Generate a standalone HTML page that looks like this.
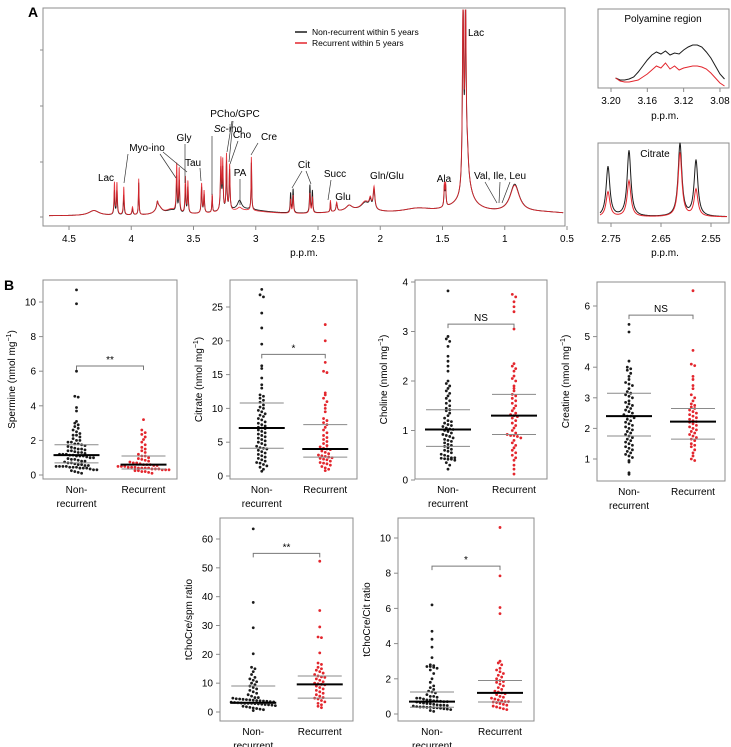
<!DOCTYPE html>
<html><head><meta charset="utf-8"><style>
html,body{margin:0;padding:0;background:#fff;}
svg{display:block;font-family:"Liberation Sans",Arial,sans-serif;}
</style></head><body>
<svg id="fig" width="731" height="747" viewBox="0 0 731 747" xmlns="http://www.w3.org/2000/svg">
<g id="panelA"></g>
<g id="panelB"></g>
</svg>
<script>
// ===== Panel A data =====
const peakPpm   = [4.30,3.78,3.68,3.10,2.25,2.12,2.20,1.70,1.30,1.33,0.92,0.70,
  4.135,4.115,4.06,3.99,3.94,3.79,3.635,3.615,3.565,3.545,3.435,3.415,3.35,3.28,3.265,3.235,3.21,3.13,3.035,
  2.72,2.70,2.565,2.545,2.40,2.35,2.05,2.08,1.485,1.475,1.335,1.315,1.30];
const peakBlack = [5,8,4,6,5,8,4,5,18,10,28,3,
  24,24,20,6,32,6,36,32,28,26,26,18,17,42,40,48,40,9,48,
  20,24,28,22,10,8,20,8,20,20,180,170,22];
const peakRed   = [5,8,5,5,5,9,4,5,18,10,27,3,
  32,32,28,8,36,6,48,44,36,32,30,22,19,52,48,56,46,3,55,
  14,18,20,16,12,9,22,9,22,22,190,180,22];
const peakWidth = [0.05,0.03,0.05,0.25,0.03,0.04,0.25,0.15,0.04,0.15,0.045,0.3,
  0.004,0.004,0.004,0.005,0.003,0.006,0.004,0.004,0.004,0.004,0.004,0.004,0.003,0.005,0.004,0.004,0.004,0.02,0.003,
  0.004,0.004,0.004,0.004,0.003,0.006,0.008,0.01,0.004,0.004,0.006,0.006,0.01];
const ppmTicks = [4.5,4,3.5,3,2.5,2,1.5,1,0.5];
const annText = ["Lac","Myo-ino","Gly","Tau","PCho/GPC","Cho","Cre","PA","Cit","Succ","Glu","Gln/Glu","Ala","Val, Ile, Leu"];
const annX    = [106,147,184,193,235,242,269,240,304,335,343,387,444,500];
const annY    = [181,151,141,166,117,138,140,176,168,177,200,179,182,179];

const polyPpm   = [3.195,3.19,3.185,3.18,3.175,3.17,3.165,3.16,3.155,3.15,3.145,3.14,3.135,3.13,3.125,3.12,3.115,3.11,3.105,3.10,3.095,3.09,3.085,3.08,3.075];
const polyBlack = [10,8,8,9,11,16,22,28,33,36,34,37,33,35,34,38,41,43,43,41,36,30,22,14,9];
const polyRed   = [10,7,6,6,7,8,11,14,18,22,20,25,19,22,18,20,21,22,22,21,19,15,10,5,2];
const polyTicks = [3.20,3.16,3.12,3.08];
const citPpm   = [2.756,2.714,2.612,2.58];
const citBlack = [50,66,73,56];
const citRed   = [25,36,64,27];
const citTicks = [2.75,2.65,2.55];

// ===== Panel B data =====
const spmNon = [10.7,9.9,6.0,4.55,4.5,3.9,3.7,3.1,3.0,2.9,2.8,2.7,2.6,2.5,2.4,2.3,2.3,2.2,2.1,2.0,2.0,1.9,1.9,1.8,1.8,1.75,1.7,1.65,1.6,1.55,1.5,1.5,1.45,1.4,1.4,1.35,1.3,1.3,1.25,1.2,1.2,1.2,1.15,1.15,1.1,1.1,1.1,1.05,1.0,1.0,0.95,0.9,0.9,0.85,0.8,0.8,0.75,0.7,0.7,0.65,0.6,0.6,0.55,0.55,0.5,0.5,0.5,0.5,0.45,0.45,0.45,0.4,0.4,0.4,0.35,0.3,0.3,0.25,0.2,0.15,0.1];
const spmRec = [3.2,2.6,2.45,2.35,2.2,2.05,1.9,1.75,1.6,1.5,1.4,1.3,1.2,1.1,1.1,1.0,0.95,0.9,0.85,0.8,0.75,0.7,0.7,0.65,0.6,0.6,0.6,0.55,0.55,0.5,0.5,0.5,0.45,0.45,0.45,0.4,0.4,0.4,0.4,0.35,0.35,0.35,0.3,0.3,0.3,0.25,0.25,0.2,0.2,0.15,0.1];
const citNon = [27.6,26.8,26.5,24.1,21.9,19.5,16.3,15.9,14.5,13.5,13.0,12.0,11.8,11.5,11.2,10.9,10.5,10.2,10.0,9.7,9.5,9.2,9.0,8.8,8.5,8.3,8.0,7.8,7.6,7.4,7.2,7.1,7.0,6.8,6.6,6.4,6.2,6.0,5.8,5.6,5.4,5.2,5.0,4.8,4.6,4.4,4.2,4.1,4.0,3.8,3.6,3.4,3.2,3.0,2.8,2.6,2.4,2.2,2.0,1.9,1.7,1.5,1.3,1.0,0.7];
const citRec = [22.4,20.0,16.8,15.5,15.3,12.3,12.0,11.5,11.0,10.5,10.0,9.5,8.5,8.2,7.9,7.6,7.2,6.8,6.4,6.0,5.7,5.4,5.1,4.8,4.5,4.3,4.1,4.0,3.9,3.7,3.5,3.3,3.1,3.0,2.9,2.8,2.7,2.6,2.5,2.4,2.2,2.0,1.9,1.8,1.6,1.4,1.2,1.0,0.8];
const choNon = [3.82,2.9,2.85,2.8,2.7,2.5,2.4,2.3,2.2,2.0,1.95,1.9,1.85,1.8,1.75,1.7,1.65,1.6,1.55,1.5,1.45,1.42,1.4,1.35,1.3,1.25,1.2,1.18,1.15,1.12,1.1,1.08,1.05,1.03,1.02,1.0,0.98,0.95,0.92,0.9,0.88,0.85,0.82,0.8,0.78,0.75,0.72,0.7,0.68,0.65,0.62,0.6,0.58,0.55,0.52,0.5,0.48,0.45,0.45,0.44,0.43,0.42,0.42,0.4,0.35,0.3,0.22];
const choRec = [3.75,3.7,3.6,3.5,3.4,3.05,2.35,2.3,2.25,2.2,2.1,2.05,2.0,1.9,1.85,1.8,1.73,1.7,1.65,1.6,1.55,1.5,1.45,1.4,1.35,1.32,1.3,1.28,1.25,1.2,1.15,1.1,1.05,1.0,0.95,0.92,0.9,0.9,0.88,0.85,0.8,0.75,0.7,0.65,0.6,0.55,0.5,0.45,0.4,0.3,0.22,0.12];
const creNon = [5.4,5.15,4.2,4.0,3.95,3.9,3.8,3.7,3.6,3.5,3.45,3.4,3.3,3.2,3.15,3.1,3.05,3.0,2.9,2.85,2.8,2.75,2.7,2.65,2.6,2.55,2.5,2.45,2.4,2.4,2.35,2.3,2.25,2.2,2.15,2.1,2.05,2.0,1.95,1.9,1.85,1.8,1.75,1.7,1.65,1.6,1.55,1.5,1.45,1.4,1.35,1.3,1.25,1.2,1.15,1.1,1.05,0.95,0.9,0.55,0.5];
const creRec = [6.5,4.55,4.1,4.05,3.7,3.6,3.4,3.3,3.1,3.0,2.9,2.8,2.75,2.7,2.65,2.6,2.55,2.5,2.45,2.4,2.35,2.3,2.25,2.22,2.2,2.15,2.1,2.05,2.0,1.95,1.9,1.85,1.8,1.75,1.7,1.65,1.6,1.5,1.45,1.4,1.3,1.2,1.1,1.0,0.95];
const rsNon = [63.5,38,29.2,20.2,15.5,15,14,13,12,11.5,11,10.5,10,9.5,9,8.5,8,7.5,7,6.5,6,5.5,5,5,4.8,4.6,4.5,4.4,4.3,4.2,4.1,4,3.9,3.8,3.7,3.6,3.5,3.4,3.3,3.2,3.1,3,3,3,2.9,2.8,2.7,2.6,2.5,2.4,2.2,2,1.8,1.6,1.4,1.2,1,0.8,0.5];
const rsRec = [52.3,35.2,29.5,26,25.8,20.5,17,16.5,15.5,15,14.5,14,13.5,13,12.5,12.2,12,11.5,11,10.5,10,9.8,9.6,9.4,9,8.5,8,7.5,7,6.5,6,5.5,5,4.8,4.5,4,3.5,3,2.5,2,1.5];
const rcNon = [6.2,4.7,4.25,3.8,3.2,2.8,2.75,2.7,2.7,2.65,2.6,2.5,2.3,2.0,1.8,1.6,1.5,1.4,1.3,1.25,1.2,1.1,1.0,1.0,0.95,0.9,0.9,0.85,0.8,0.8,0.75,0.75,0.72,0.7,0.7,0.68,0.65,0.62,0.6,0.58,0.55,0.52,0.5,0.5,0.48,0.45,0.42,0.4,0.4,0.38,0.38,0.36,0.35,0.33,0.3,0.28,0.25,0.2,0.15];
const rcRec = [10.6,7.85,6.05,5.7,3.0,2.9,2.8,2.6,2.5,2.4,2.3,2.2,2.1,2.0,1.9,1.85,1.8,1.7,1.6,1.5,1.4,1.3,1.25,1.2,1.15,1.1,1.0,0.95,0.9,0.85,0.8,0.75,0.7,0.7,0.68,0.65,0.6,0.55,0.5,0.45,0.4,0.35,0.3,0.25];
const spmStats = [[1.15,0.7,1.75],[0.6,0.35,1.1]];
const citStats = [[7.1,4.1,10.8],[4.0,2.8,7.6]];
const choStats = [[1.02,0.68,1.42],[1.3,0.92,1.73]];
const creStats = [[2.4,1.75,3.15],[2.22,1.65,2.65]];
const rsStats  = [[3.2,3.0,9.0],[9.6,4.8,12.5]];
const rcStats  = [[0.7,0.38,1.25],[1.2,0.68,1.9]];
const sigLevels = [6.3,18,3.15,5.7,55,8.4];
const sigText = ["**","*","NS","NS","**","*"];
const categories = ["Non-recurrent","Recurrent"];

const NS="http://www.w3.org/2000/svg";
function mk(tag,attrs,parent,text){const e=document.createElementNS(NS,tag);for(const k in attrs)e.setAttribute(k,attrs[k]);if(text!==undefined)e.textContent=text;parent.appendChild(e);return e;}
const A=document.getElementById('panelA'), B=document.getElementById('panelB');
const BLK="#1b1b1b", RED="#e3262d", FR="#8c8c8c";

const xS = p => 69 + (4.5-p)*124.5;
const yS = v => 216 - v;
function spec(h){let pts=[];for(let p=4.66;p>=0.53;p-=0.0015){let s=0;for(let i=0;i<peakPpm.length;i++){const w=peakWidth[i],d=p-peakPpm[i];s+=h[i]*w*w/(d*d+w*w);}pts.push(xS(p).toFixed(2)+","+yS(Math.min(s,206)).toFixed(2));}return pts.join(" ");}
let f=mk('rect',{x:43,y:8,width:522,height:218,fill:"none",stroke:FR,"stroke-width":1},A);

let t=mk('text',{x:28,y:17,"font-size":14,"font-weight":"bold"},A,"A");

[50,106,162,217].forEach(y=>{mk('line',{x1:40,x2:43,y1:y,y2:y,stroke:FR},A);});
ppmTicks.forEach(p=>{mk('line',{x1:xS(p),x2:xS(p),y1:226,y2:230,stroke:FR},A);
 let l=mk('text',{x:xS(p),y:242,"font-size":10,"text-anchor":"middle"},A,String(p));
 });
t=mk('text',{x:304,y:256,"font-size":10,"text-anchor":"middle"},A,"p.p.m.");

let lb=mk('polyline',{points:spec(peakBlack),fill:"none",stroke:BLK,"stroke-width":0.9},A);

let lr=mk('polyline',{points:spec(peakRed),fill:"none",stroke:RED,"stroke-width":0.9,"stroke-opacity":0.9},A);

mk('line',{x1:295,x2:307,y1:32,y2:32,stroke:BLK,"stroke-width":1.5},A);
mk('line',{x1:295,x2:307,y1:43,y2:43,stroke:RED,"stroke-width":1.5},A);
t=mk('text',{x:312,y:35,"font-size":8.5},A,"Non-recurrent within 5 years");

t=mk('text',{x:312,y:46,"font-size":8.5},A,"Recurrent within 5 years");

t=mk('text',{x:468,y:36,"font-size":10},A,"Lac");

for(let i=0;i<annText.length;i++){
 const a=mk('text',{x:annX[i],y:annY[i],"font-size":10,"text-anchor":"middle"},A,annText[i]);
 }
let sc=mk('text',{x:228,y:132,"font-size":10,"text-anchor":"middle"},A);

mk('tspan',{"font-style":"italic"},sc,"Sc");mk('tspan',{},sc,"-ino");
const leaders=[[128,154,124,183],[160,154,176,178],[163,152,187,172],[185,144,185,183],[200,168,201,181],[212,136,212,195],
[232,121,227,152],[233,121,229,162],[238,141,230,164],[258,143,251,155],[240,179,240,205],[302,171,292,188],[306,171,311,184],
[331,180,328,200],[485,182,497,203],[500,182,499,203],[510,182,502,203]];
leaders.forEach(l=>mk('line',{x1:l[0],y1:l[1],x2:l[2],y2:l[3],stroke:"#333","stroke-width":0.7},A));

const xP = p => 611 + (3.20-p)*908;
const yP = v => 88 - v;
f=mk('rect',{x:598,y:9,width:131,height:79,fill:"none",stroke:FR},A);

t=mk('text',{x:663,y:22,"font-size":10,"text-anchor":"middle"},A,"Polyamine region");

let pb=mk('polyline',{points:polyPpm.map((p,i)=>xP(p)+","+yP(polyBlack[i])).join(" "),fill:"none",stroke:BLK,"stroke-width":1},A);

let pr=mk('polyline',{points:polyPpm.map((p,i)=>xP(p)+","+yP(polyRed[i])).join(" "),fill:"none",stroke:RED,"stroke-width":1},A);

polyTicks.forEach(p=>{mk('line',{x1:xP(p),x2:xP(p),y1:88,y2:92,stroke:FR},A);
 mk('text',{x:xP(p),y:104,"font-size":10,"text-anchor":"middle"},A,p.toFixed(2));});
mk('text',{x:665,y:119,"font-size":10,"text-anchor":"middle"},A,"p.p.m.");

const xC = p => 611 + (2.75-p)*500;
const yC = v => 219 - v;
function citCurve(h){let pts=[];for(let p=2.772;p>=2.518;p-=0.001){let s=2;for(let i=0;i<citPpm.length;i++){const w=0.0045,d=p-citPpm[i];s+=h[i]*w*w/(d*d+w*w);}pts.push(xC(p).toFixed(2)+","+yC(s).toFixed(2));}return pts.join(" ");}
f=mk('rect',{x:598,y:143,width:131,height:80,fill:"none",stroke:FR},A);

t=mk('text',{x:655,y:157,"font-size":10,"text-anchor":"middle"},A,"Citrate");

let cb=mk('polyline',{points:citCurve(citBlack),fill:"none",stroke:BLK,"stroke-width":1},A);

let cr=mk('polyline',{points:citCurve(citRed),fill:"none",stroke:RED,"stroke-width":1},A);

citTicks.forEach(p=>{mk('line',{x1:xC(p),x2:xC(p),y1:223,y2:227,stroke:FR},A);
 mk('text',{x:xC(p),y:242,"font-size":10,"text-anchor":"middle"},A,p.toFixed(2));});
mk('text',{x:665,y:256,"font-size":10,"text-anchor":"middle"},A,"p.p.m.");

t=mk('text',{x:4,y:290,"font-size":14,"font-weight":"bold"},B,"B");

const plots=[
 {name:"spermine",x:43,y:280,w:134,h:199,v0:0,y0:475,v1:10,y1:302,ticks:[0,2,4,6,8,10],title:"Spermine",unit:true,non:spmNon,rec:spmRec,st:spmStats},
 {name:"citrate",x:230,y:280,w:127,h:199,v0:0,y0:476,v1:25,y1:307,ticks:[0,5,10,15,20,25],title:"Citrate",unit:true,non:citNon,rec:citRec,st:citStats},
 {name:"choline",x:415,y:280,w:132,h:199,v0:0,y0:480,v1:4,y1:282,ticks:[0,1,2,3,4],title:"Choline",unit:true,non:choNon,rec:choRec,st:choStats},
 {name:"creatine",x:597,y:282,w:128,h:199,v0:1,y0:459,v1:6,y1:306,ticks:[1,2,3,4,5,6],title:"Creatine",unit:true,non:creNon,rec:creRec,st:creStats},
 {name:"tchocre-spm-ratio",x:220,y:518,w:133,h:203,v0:0,y0:712,v1:60,y1:539,ticks:[0,10,20,30,40,50,60],title:"tChoCre/spm ratio",unit:false,non:rsNon,rec:rsRec,st:rsStats},
 {name:"tchocre-cit-ratio",x:398,y:518,w:136,h:203,v0:0,y0:714,v1:10,y1:538,ticks:[0,2,4,6,8,10],title:"tChoCre/Cit ratio",unit:false,non:rcNon,rec:rcRec,st:rcStats}
];
plots.forEach((P,pi)=>{
 const g=mk('g',{},B);
 
 const yv=v=>P.y0+(v-P.v0)*(P.y1-P.y0)/(P.v1-P.v0);
 const cx=[P.x+P.w*0.25,P.x+P.w*0.75];
 const fr=mk('rect',{x:P.x,y:P.y,width:P.w,height:P.h,fill:"none",stroke:FR},g);
 
 P.ticks.forEach(tv=>{mk('line',{x1:P.x-4,x2:P.x,y1:yv(tv),y2:yv(tv),stroke:FR},g);
  const tl=mk('text',{x:P.x-7,y:yv(tv)+3.5,"font-size":10,"text-anchor":"end"},g,String(tv));
  });
 const tt=mk('text',{transform:`translate(${P.x-28},${P.y+P.h/2}) rotate(-90)`,"font-size":10,"text-anchor":"middle"},g);
 
 if(P.unit){mk('tspan',{},tt,P.title+" (nmol mg");mk('tspan',{"font-size":7,dy:-4},tt,"−1");mk('tspan',{dy:4},tt,")");}
 else tt.textContent=P.title;
 mk('text',{x:cx[0],y:P.y+P.h+14,"font-size":10,"text-anchor":"middle"},g,"Non-");
 mk('text',{x:cx[0],y:P.y+P.h+28,"font-size":10,"text-anchor":"middle"},g,"recurrent");
 mk('text',{x:cx[1],y:P.y+P.h+14,"font-size":10,"text-anchor":"middle"},g,categories[1]);
 [P.non,P.rec].forEach((vals,gi)=>{
  const sorted=[...vals].sort((a,b)=>b-a); const bins={};
  sorted.forEach(v=>{const py=yv(v);const k=Math.round(py/4);(bins[k]=bins[k]||[]).push(py);});
  Object.keys(bins).forEach(k=>{const arr=bins[k];const n=arr.length;
   arr.forEach((py,j)=>{const off=(j-(n-1)/2)*3.4;
    const c=mk('circle',{cx:cx[gi]+off,cy:py,r:1.4,fill:gi?RED:BLK},g);
    
    });});
  const s=P.st[gi];
  mk('line',{x1:cx[gi]-22,x2:cx[gi]+22,y1:yv(s[1]),y2:yv(s[1]),stroke:"#8a8a8a","stroke-width":1},g);
  mk('line',{x1:cx[gi]-22,x2:cx[gi]+22,y1:yv(s[2]),y2:yv(s[2]),stroke:"#8a8a8a","stroke-width":1},g);
  const md=mk('line',{x1:cx[gi]-23,x2:cx[gi]+23,y1:yv(s[0]),y2:yv(s[0]),stroke:"#000","stroke-width":2},g);
  
 });
 const sy=yv(sigLevels[pi]);
 mk('polyline',{points:`${cx[0]},${sy+4} ${cx[0]},${sy} ${cx[1]},${sy} ${cx[1]},${sy+4}`,fill:"none",stroke:"#777"},g);
 const st=mk('text',{x:(cx[0]+cx[1])/2,y:sy-3,"font-size":10,"text-anchor":"middle"},g,sigText[pi]);
 
});
</script>
</body></html>
